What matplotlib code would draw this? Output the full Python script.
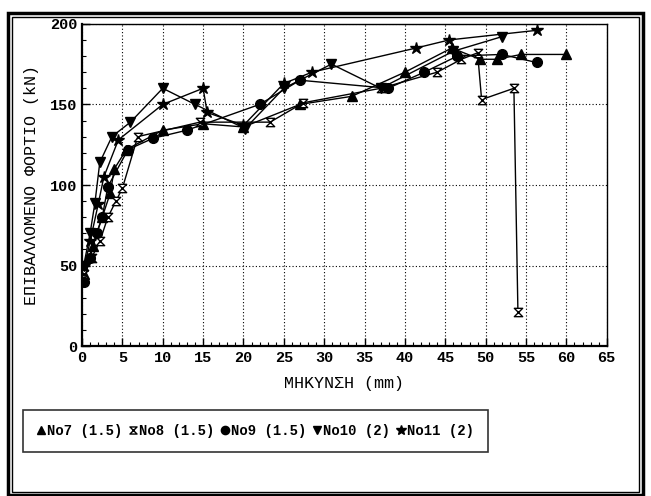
import matplotlib
matplotlib.use("Agg")
import matplotlib.pyplot as plt
from matplotlib.path import Path
from matplotlib.patches import Rectangle
from matplotlib.lines import Line2D
from matplotlib.ticker import MultipleLocator

# ---- data (elongation mm, applied load kN) ----
no7_x = [0.3, 1.3, 2.5, 3.5, 4.0, 5.5, 10.0, 15.0, 20.0, 27.0, 33.4, 40.0, 45.8, 49.3, 51.4, 54.4, 60.0]
no7_y = [45, 62, 80, 95, 110, 122, 134, 138, 136, 150, 155, 170, 185, 178, 178, 181, 181]

no8_x = [0.3, 1.2, 2.2, 3.2, 4.2, 5.0, 6.9, 14.6, 23.3, 27.4, 37.0, 44.0, 47.0, 49.0, 49.5, 53.5, 54.0]
no8_y = [45, 55, 65, 80, 90, 98, 130, 139, 139, 151, 160, 170, 178, 182, 153, 160, 21]

no9_x = [0.2, 1.0, 1.8, 2.5, 3.2, 5.7, 8.8, 13.0, 22.0, 27.0, 37.9, 42.4, 46.5, 52.0, 56.3]
no9_y = [40, 55, 70, 80, 99, 122, 129, 134, 150, 165, 160, 170, 180, 181, 176]

no10_x = [0.2, 1.0, 1.6, 2.2, 3.7, 6.0, 10.0, 14.0, 20.2, 25.0, 30.9, 37.0, 46.0, 52.0]
no10_y = [50, 70, 89, 114, 130, 139, 160, 150, 135, 160, 175, 160, 183, 192]

no11_x = [0.3, 1.0, 2.0, 2.7, 4.5, 10.0, 15.0, 15.5, 20.0, 25.0, 28.5, 41.4, 45.5, 56.4]
no11_y = [50, 65, 88, 105, 128, 150, 160, 145, 137, 163, 170, 185, 190, 196]

labels = ["No7 (1.5)", "No8 (1.5)", "No9 (1.5)", "No10 (2)", "No11 (2)"]
xticks = list(range(0, 66, 5))
yticks = list(range(0, 201, 50))

hourglass = Path([(-1, 1), (1, 1), (-1, -1), (1, -1), (-1, 1)],
                 [Path.MOVETO, Path.LINETO, Path.LINETO, Path.LINETO, Path.CLOSEPOLY])

fig = plt.figure(figsize=(6.51, 4.96), dpi=100)
ax = fig.add_axes([0.126, 0.302, 0.806, 0.650])

mono = "Liberation Mono"
kw = dict(color="black", lw=1.0)
ax.plot(no7_x, no7_y, marker="^", ms=7, mfc="black", mec="black", label=labels[0], **kw)
ax.plot(no8_x, no8_y, marker=hourglass, ms=6, mfc="white", mec="black", mew=1.0, label=labels[1], **kw)
ax.plot(no9_x, no9_y, marker="o", ms=7, mfc="black", mec="black", label=labels[2], **kw)
ax.plot(no10_x, no10_y, marker="v", ms=7, mfc="black", mec="black", label=labels[3], **kw)
ax.plot(no11_x, no11_y, marker="*", ms=9, mfc="black", mec="black", label=labels[4], **kw)

ax.set_xlim(0, 65)
ax.set_ylim(0, 200)
ax.set_xticks(xticks)
ax.set_yticks(yticks)
ax.xaxis.set_minor_locator(MultipleLocator(1))
ax.yaxis.set_minor_locator(MultipleLocator(10))
ax.tick_params(which="both", direction="in", top=False, right=False, colors="black")
ax.tick_params(which="major", length=6, width=1)
ax.tick_params(which="minor", length=3, width=0.8)
for lab in ax.get_xticklabels() + ax.get_yticklabels():
    lab.set_fontfamily(mono)
    lab.set_fontsize(11)
    lab.set_fontweight("bold")
ax.grid(True, which="major", linestyle=(0, (1, 2)), color="black", lw=0.8)
for s in ["left", "bottom"]:
    ax.spines[s].set_linewidth(1.6)
for s in ["top", "right"]:
    ax.spines[s].set_linewidth(1.0)

ax.set_xlabel("ΜΗΚΥΝΣΗ (mm)", family=mono, fontsize=12, labelpad=8)
ax.set_ylabel("ΕΠΙΒΑΛΛΟΜΕΝΟ ΦΟΡΤΙΟ (kN)", family=mono, fontsize=12, labelpad=8)

handles, labs = ax.get_legend_handles_labels()
leg_handles = []
for h in handles:
    leg_handles.append(Line2D([], [], linestyle="none", marker=h.get_marker(),
                              ms=h.get_markersize() * 0.85, mfc=h.get_markerfacecolor(),
                              mec="black", mew=1.0))
leg = fig.legend(leg_handles, labs, loc="center", bbox_to_anchor=(0.392, 0.131), ncol=5,
                 prop={"family": mono, "size": 10, "weight": "bold"},
                 frameon=True, fancybox=False, edgecolor="black",
                 handlelength=0.6, handletextpad=0.15, columnspacing=0.45,
                 borderpad=1.0, borderaxespad=0)
leg.get_frame().set_linewidth(1.2)

# scanned page frame
fig.patches.append(Rectangle((0.012, 0.003), 0.976, 0.97, transform=fig.transFigure,
                             fill=False, lw=2.5, edgecolor="black"))
fig.patches.append(Rectangle((0.019, 0.008), 0.962, 0.958, transform=fig.transFigure,
                             fill=False, lw=1.0, edgecolor="black"))

fig.savefig("out.png", dpi=100)
